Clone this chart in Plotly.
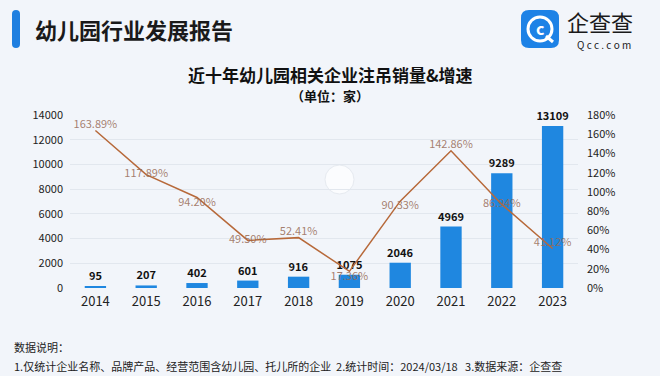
import plotly.graph_objects as go

years = ["2014", "2015", "2016", "2017", "2018", "2019", "2020", "2021", "2022", "2023"]
counts = [95, 207, 402, 601, 916, 1075, 2046, 4969, 9289, 13109]
growth = [163.89, 117.89, 94.20, 49.50, 52.41, 17.36, 90.33, 142.86, 86.94, 41.12]
growth_labels = ["163.89%", "117.89%", "94.20%", "49.50%", "52.41%", "17.36%", "90.33%", "142.86%", "86.94%", "41.12%"]
label_pos = ["top center", "middle center", "bottom center", "middle center", "top center",
             "bottom center", "bottom center", "top center", "middle center", "top center"]
left_ticks = [0, 2000, 4000, 6000, 8000, 10000, 12000, 14000]
right_ticks = [0, 20, 40, 60, 80, 100, 120, 140, 160, 180]
right_tick_text = ["0%", "20%", "40%", "60%", "80%", "100%", "120%", "140%", "160%", "180%"]

FONT = "Noto Sans CJK SC"

fig = go.Figure()
fig.add_trace(go.Bar(
    x=years, y=counts, yaxis="y",
    marker=dict(color="#1f87e0", line=dict(width=0)),
    width=0.42,
    text=[str(v) for v in counts], textposition="outside", constraintext="none",
    textfont=dict(family=FONT, size=11, color="#111111", weight="bold"),
    cliponaxis=False, showlegend=False,
))
fig.add_trace(go.Scatter(
    x=years, y=growth, yaxis="y2", mode="lines+text",
    line=dict(color="#b7693a", width=1.5),
    text=growth_labels, textposition=label_pos,
    textfont=dict(family=FONT, size=11, color="rgba(150,105,85,0.85)"),
    cliponaxis=False, showlegend=False,
))

W, H = 660, 376
ml, mr, mt, mb = 70, 82, 115, 88
pw, ph = W - ml - mr, H - mt - mb

fig.update_layout(
    width=W, height=H,
    margin=dict(l=ml, r=mr, t=mt, b=mb, autoexpand=False),
    paper_bgcolor="#f2f5fa", plot_bgcolor="rgba(0,0,0,0)",
    font=dict(family=FONT, color="#222222"),
    xaxis=dict(type="category", showgrid=False, showline=False, zeroline=False,
               ticks="", tickfont=dict(family=FONT, size=13, color="#222222"),
               ticklabelstandoff=4, automargin=False),
    yaxis=dict(range=[0, 14000], tickvals=left_ticks, tickformat="d", showgrid=True,
               gridcolor="#e2e7ee", gridwidth=1, zeroline=False, showline=False,
               ticks="", tickfont=dict(family=FONT, size=11, color="#222222"),
               ticklabelstandoff=6, automargin=False),
    yaxis2=dict(range=[0, 180], tickvals=right_ticks, ticktext=right_tick_text, overlaying="y",
                side="right", showgrid=False, zeroline=False, showline=False,
                ticks="", tickfont=dict(family=FONT, size=11, color="#222222"),
                ticklabelstandoff=8, automargin=False),
    bargap=0.58,
)


def px(x):
    return (x - ml) / pw


def py(y):
    return (H - mb - y) / ph


def rounded(x0, y0, x1, y1, r):
    X0, X1 = px(x0), px(x1)
    Y0, Y1 = py(y0), py(y1)
    rx, ry = r / pw, r / ph
    return (f"M{X0+rx},{Y0} L{X1-rx},{Y0} Q{X1},{Y0} {X1},{Y0-ry} L{X1},{Y1+ry} "
            f"Q{X1},{Y1} {X1-rx},{Y1} L{X0+rx},{Y1} Q{X0},{Y1} {X0},{Y1+ry} "
            f"L{X0},{Y0-ry} Q{X0},{Y0} {X0+rx},{Y0} Z")


shapes = []
shapes.append(dict(type="path", xref="paper", yref="paper",
                   path=rounded(12, 10, 20, 48, 4), fillcolor="#1f7fe0", line=dict(width=0), layer="above"))
shapes.append(dict(type="path", xref="paper", yref="paper",
                   path=rounded(521, 10, 559, 48, 8), fillcolor="#1d82e6", line=dict(width=0), layer="above"))
shapes.append(dict(type="circle", xref="paper", yref="paper",
                   x0=px(528), x1=px(552), y0=py(41), y1=py(17),
                   line=dict(color="white", width=3), layer="above"))
shapes.append(dict(type="line", xref="paper", yref="paper",
                   x0=px(546), x1=px(553), y0=py(36), y1=py(42),
                   line=dict(color="white", width=3), layer="above"))
shapes.append(dict(type="circle", xref="paper", yref="paper",
                   x0=px(325), x1=px(354), y0=py(194), y1=py(165),
                   fillcolor="rgba(255,255,255,0.7)", line=dict(color="#e6eaf0", width=1), layer="below"))
fig.update_layout(shapes=shapes)

ann = [
    dict(text="幼儿园行业发展报告", x=px(33), y=py(29), xanchor="left", yanchor="middle",
         font=dict(family=FONT, size=22, color="#1a1a1a", weight="bold")),
    dict(text="c", x=px(540), y=py(28), xanchor="center", yanchor="middle",
         font=dict(family=FONT, size=16, color="white", weight="bold")),
    dict(text="企查查", x=px(565), y=py(21), xanchor="left", yanchor="middle",
         font=dict(family=FONT, size=22, color="#1a1a1a")),
    dict(text="Q c c . c o m", x=px(604), y=py(44), xanchor="center", yanchor="middle",
         font=dict(family=FONT, size=10, color="#1a1a1a")),
    dict(text="近十年幼儿园相关企业注吊销量&增速", x=px(330), y=py(75), xanchor="center", yanchor="middle",
         font=dict(family=FONT, size=17, color="#111111", weight="bold")),
    dict(text="（单位：家）", x=px(330), y=py(95), xanchor="center", yanchor="middle",
         font=dict(family=FONT, size=13, color="#111111", weight="bold")),
    dict(text="数据说明：", x=px(12), y=py(347), xanchor="left", yanchor="middle",
         font=dict(family=FONT, size=11, color="#222222")),
    dict(text="1.仅统计企业名称、品牌产品、经营范围含幼儿园、托儿所的企业  2.统计时间：2024/03/18   3.数据来源：企查查",
         x=px(12), y=py(366), xanchor="left", yanchor="middle",
         font=dict(family=FONT, size=11, color="#222222")),
]
for a in ann:
    a.update(xref="paper", yref="paper", showarrow=False)
fig.update_layout(annotations=ann)

fig.write_html("out.html", config={"displayModeBar": False},
               post_script="document.body.style.margin='0';")
